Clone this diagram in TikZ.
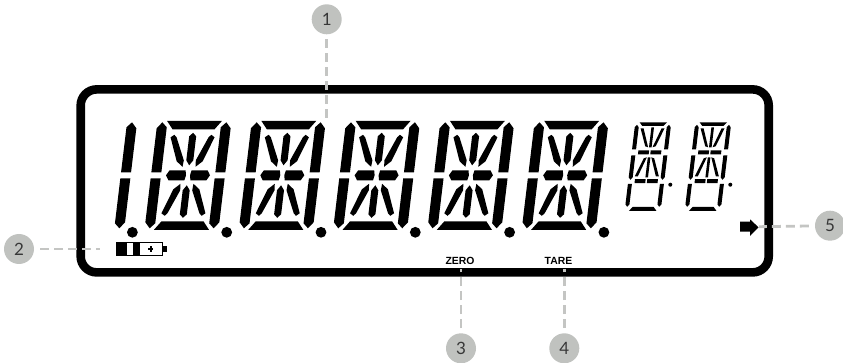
\documentclass[tikz,border=0pt]{standalone}
\usepackage{fontspec}
\setmainfont{Lato}
\newfontfamily\lcdfont{Liberation Sans}
\definecolor{leadgray}{RGB}{196,197,195}
\definecolor{numgray}{RGB}{192,194,191}
\definecolor{numtext}{RGB}{55,55,55}
\tikzset{
  callout/.style={circle,fill=numgray,text=numtext,inner sep=0pt,minimum size=30pt,font=\fontsize{17}{17}\selectfont},
  leader/.style={draw=leadgray,line width=2.8pt,dash pattern=on 9pt off 5pt},
  lcdtext/.style={inner sep=0pt,font=\lcdfont\bfseries\fontsize{10.4}{10.4}\selectfont},
  bigright/.pic={
    \begin{scope}[xslant=.12]
      \foreach \sy in {1,-1} {
        \fill[yscale=\sy] (32,-53) -- (37,-47) -- (37,-3) -- (27,-3) -- (27,-48) -- cycle;
      }
    \end{scope}
  },
  bigdigit/.pic={
    \begin{scope}[xslant=.12]
      \foreach \sy in {1,-1} {
        \fill[yscale=\sy] (-27.5,-54.5) -- (27.5,-54.5) -- (21,-46) -- (-21,-46) -- cycle;
        \fill[yscale=\sy] (-3.5,-39) -- (0,-42.5) -- (3.5,-39) -- (3.5,-15) -- (0,-10) -- (-3.5,-15) -- cycle;
        \foreach \sx in {1,-1} {
          \fill[xscale=\sx,yscale=\sy] (-32,-53) -- (-27,-48) -- (-27,-3) -- (-37,-3) -- (-37,-47) -- cycle;
          \fill[xscale=\sx,yscale=\sy] (-22,-38) -- (-18.5,-40.5) -- (-16,-38) -- (-6,-15) -- (-6.5,-8.5) -- (-13,-14) -- cycle;
        }
      }
      \foreach \sx in {1,-1} {
        \fill[xscale=\sx] (-22,0) -- (-19,-5) -- (-3,-5) -- (-2,0) -- (-3,5) -- (-19,5) -- cycle;
      }
    \end{scope}
  },
  smalldigit/.pic={
    \begin{scope}[xslant=.12]
      \fill (-13.7,-30) -- (13.7,-30) -- (10.5,-26.3) -- (-10.5,-26.3) -- cycle;
      \fill (-13.7,58.6) -- (13.7,58.6) -- (10.5,54.6) -- (-10.5,54.6) -- cycle;
      \foreach \sx in {1,-1} {
        \fill[xscale=\sx] (-11.5,-2) rectangle (-.8,2);
        \fill[xscale=\sx] (-11.5,26.8) rectangle (-.8,30.8);
        \fill[xscale=\sx] (-18,31.5) -- (-14,31.5) -- (-14,52) -- (-16,54.5) -- (-18,52) -- cycle;
        \foreach \sy in {1,-1} {
          \fill[xscale=\sx,yscale=\sy] (-16,-27.5) -- (-14,-25) -- (-14,-3) -- (-18,-3) -- (-18,-25) -- cycle;
          \fill[xscale=\sx,yscale=\sy] (-12,-24) -- (-9,-24) -- (-2.2,-5) -- (-5.2,-6) -- cycle;
        }
      }
      \foreach \sy in {1,-1} {
        \fill[yscale=\sy] (-1.3,-25) rectangle (1.3,-5);
      }
    \end{scope}
  },
}
\begin{document}
\begin{tikzpicture}[x=1pt,y=-1pt]
\useasboundingbox (0,0) rectangle (843,363);
%% display frame
\node (frame) at (424.7,180.9) [draw,line width=8.6pt,rounded corners=16pt,inner sep=0pt,minimum width=688pt,minimum height=183pt] {};
%% digits
\pic at (93.7,175.3) {bigright};
\foreach \cx in {188,282.3,376.6,470.9,565.2} {
  \pic at (\cx,175.3) {bigdigit};
}
\foreach \cx in {132.4,226.7,321,415.3,509.6,603.9} {
  \fill (\cx,232.3) circle (5.4pt);
}
\foreach \cx in {649.7,709.7} {
  \pic at (\cx,152.3) {smalldigit};
  \fill (\cx+20.6,184.7) circle (2pt);
}
%% battery
\fill (116.7,242.3) rectangle (126.7,256);
\fill (133.4,242.3) rectangle (140,256);
\draw[line width=1.1pt] (117,242.8) rectangle (162.7,255.5);
\fill (162.7,246.5) rectangle (166.5,251.9);
\fill (148.2,248.3) rectangle (153.2,249.9);
\fill (149.9,246.5) rectangle (151.5,251.7);
%% arrow
\fill (740,221.7) -- (750,221.7) -- (750,219.3) -- (758.5,227.3) -- (750,236) -- (750,231.7) -- (740,231.7) -- cycle;
%% texts
\node (zero) at (460,260.7) [lcdtext] {ZERO};
\node (tare) at (558.5,260.7) [lcdtext] {TARE};
%% callouts
\node (num1) at (326.7,19.3) [callout] {1};
\node (num2) at (19,249) [callout] {2};
\node (num3) at (461,348.3) [callout] {3};
\node (num4) at (564.3,348.3) [callout] {4};
\node (num5) at (830,225.7) [callout] {5};
\coordinate (end1) at (326.7,121);
\coordinate (end2) at (100,249);
\coordinate (end3) at (461,269);
\coordinate (end4) at (564.3,269);
\coordinate (end5) at (759,226.7);
\draw[leader,shorten <=5pt] (num1) -- (end1);
\draw[leader,shorten <=6pt] (num2) -- (end2);
\draw[leader,shorten <=5pt] (num3) -- (end3);
\draw[leader,shorten <=5pt] (num4) -- (end4);
\draw[leader,shorten <=6pt] (num5) -- (end5);
\end{tikzpicture}
\end{document}
